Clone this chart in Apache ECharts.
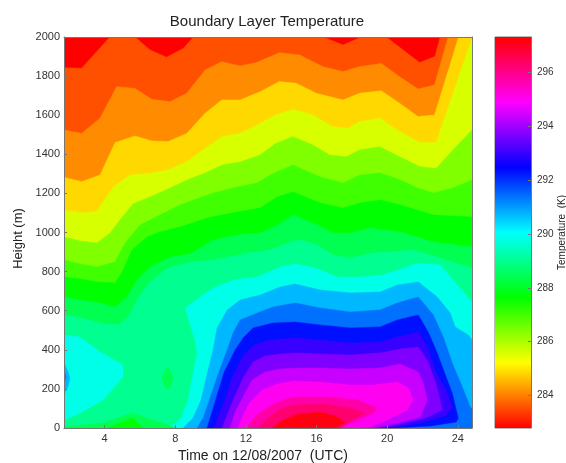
<!DOCTYPE html>
<html><head><meta charset="utf-8">
<style>html,body{margin:0;padding:0;background:#fff}#c{width:566px;height:463px;filter:blur(0.5px)}</style>
<script src="https://cdn.jsdelivr.net/npm/echarts@6/dist/echarts.min.js"></script>
</head><body><div id="c"></div>
<script>
const titleText = 'Boundary Layer Temperature';
const xName = 'Time on 12/08/2007  (UTC)';
const yName = 'Height (m)';
const barName = 'Temperature  (K)';
const xMin = 1.7, xMax = 24.8, yMin = 0, yMax = 2000, tMin = 282.8, tMax = 297.3;
const xTicks = [4, 8, 12, 16, 20, 24];
const tTicks = [284, 286, 288, 290, 292, 294, 296];
const bandColors = ['#ff0000','#ff5000','#ff8c00','#ffd800','#d8ff00','#80ff00','#40ff00','#00ff00','#00ff50','#00ff90','#00ffe8','#00b8ff','#0070ff','#0010ff','#3800ff','#8000ff','#c800ff','#ff00f0','#ff00a8','#ff0070','#ff0010'];
const barStops = ['#ff0000','#ffff00','#00ff00','#00ffff','#0000ff','#ff00ff','#ff0000'];

// contour lines [time UTC, height m], coldest to warmest
const level01 = [[1.7,1843],[2.7,1840],[4.3,2000],[5.72,2000],[6.57,1934],[7.5,1896],[8.46,1942],[9.03,2000],[16.36,2000],[17.5,1959],[18.54,2000],[19.94,2000],[21.83,1869],[22.7,1900],[23.0,2000],[24.8,2000]];
const level02 = [[1.7,1524],[2.7,1507],[3.74,1584],[4.68,1746],[5.72,1737],[6.67,1681],[7.7,1669],[8.65,1712],[9.69,1831],[10.63,1874],[11.67,1852],[12.6,1869],[13.9,1920],[15.04,1908],[16.36,1848],[17.5,1823],[18.43,1848],[19.66,1865],[20.7,1797],[21.74,1734],[22.68,1754],[23.43,1993],[23.5,2000],[24.8,2000]];
const level03 = [[1.7,1282],[2.7,1260],[3.74,1294],[4.6,1460],[5.72,1494],[6.67,1468],[7.6,1465],[8.65,1507],[9.69,1610],[10.63,1678],[11.67,1678],[12.8,1720],[13.9,1772],[14.85,1763],[15.98,1712],[17.5,1678],[18.43,1712],[19.66,1725],[20.7,1661],[21.74,1593],[22.68,1601],[24.04,2000],[24.8,2000]];
const level04 = [[1.7,1115],[2.7,1101],[3.55,1107],[4.5,1234],[5.45,1294],[6.6,1303],[7.6,1320],[8.65,1362],[9.69,1430],[10.63,1490],[11.67,1507],[12.8,1558],[13.7,1601],[14.66,1630],[15.79,1601],[16.9,1541],[17.8,1533],[18.43,1567],[19.57,1584],[20.7,1516],[21.83,1460],[22.77,1460],[24.8,1993]];
const level05 = [[1.7,977],[2.6,956],[3.57,946],[4.31,997],[4.87,1064],[5.61,1146],[6.57,1182],[7.71,1228],[8.67,1269],[9.69,1304],[10.65,1345],[11.67,1361],[12.8,1396],[13.7,1456],[14.66,1490],[15.79,1448],[16.74,1396],[17.68,1388],[18.43,1422],[19.57,1439],[20.7,1388],[21.83,1337],[22.77,1328],[23.72,1422],[24.8,1524]];
const level06 = [[1.7,859],[2.6,839],[3.57,824],[4.59,849],[5.16,946],[6.01,1038],[7.14,1089],[8.27,1141],[10.14,1202],[11.28,1228],[12.63,1253],[13.37,1294],[14.67,1345],[16.2,1284],[17.51,1253],[18.47,1294],[19.6,1304],[20.74,1269],[21.7,1228],[22.61,1202],[23.74,1228],[24.8,1269]];
const level07 = [[1.7,772],[2.6,762],[3.57,747],[4.59,742],[4.99,798],[5.55,910],[6.4,977],[7.14,1003],[8.27,1028],[9.8,1074],[11.5,1105],[12.8,1125],[13.77,1182],[14.67,1207],[16.2,1151],[17.51,1125],[18.47,1151],[19.6,1166],[20.74,1141],[22.61,1089],[24.8,1079]];
const level08 = [[1.7,670],[2.6,655],[3.74,639],[4.59,619],[5.27,670],[5.84,757],[6.57,824],[7.71,875],[8.84,890],[10.14,962],[11.5,987],[12.8,997],[13.77,1038],[14.67,1089],[16.03,1038],[16.94,997],[17.9,997],[19.04,1023],[20.74,1003],[22.61,951],[24.8,926]];
const level09 = [[1.7,578],[2.72,563],[3.74,537],[4.76,527],[5.33,568],[5.89,665],[6.57,747],[7.54,818],[8.84,849],[10.14,859],[12.07,895],[13.37,910],[14.5,951],[15.07,962],[16.03,936],[16.94,885],[17.9,870],[19.2,895],[21.47,910],[23.0,870],[24.8,818]];
const level10 = [[7.59,0],[8.27,41],[8.73,143],[9.01,281],[9.24,384],[9.12,450],[8.73,563],[8.56,614],[9.41,670],[10.14,716],[11.28,757],[12.63,772],[13.94,824],[14.79,839],[15.92,818],[17.17,772],[18.47,772],[19.77,783],[21.13,824],[21.76,844],[23.0,834],[23.97,731],[24.8,644]];
const level11 = [[8.44,0],[9.01,51],[9.46,143],[9.86,297],[10.14,399],[10.37,512],[10.94,604],[11.67,655],[12.81,680],[13.94,721],[14.79,737],[16.2,706],[17.9,691],[19.6,696],[20.57,731],[21.76,747],[22.83,670],[23.57,588],[23.85,517],[24.59,476],[24.8,450]];
const level12 = [[9.24,0],[9.58,51],[9.97,153],[10.37,261],[10.94,399],[11.28,486],[11.67,552],[12.64,588],[13.54,619],[14.79,639],[16.2,614],[17.9,593],[19.6,604],[20.57,639],[21.76,670],[22.61,578],[23.17,465],[23.68,332],[24.25,210],[24.7,107],[24.8,100]];
const level13 = [[9.8,0],[10.03,66],[10.37,169],[10.77,286],[11.39,399],[11.84,460],[12.41,512],[13.54,537],[14.79,542],[16.2,527],[17.9,512],[19.6,517],[20.57,552],[21.76,578],[22.32,491],[22.83,384],[23.29,271],[23.68,179],[23.91,92],[24.02,51],[23.91,31],[22.44,10],[20.34,0]];
const level14 = [[10.2,0],[10.48,66],[10.82,143],[11.22,261],[11.84,368],[12.41,419],[13.09,445],[13.94,455],[14.79,460],[16.2,450],[17.9,435],[19.6,440],[20.57,465],[21.76,491],[22.27,414],[22.78,281],[23.4,179],[23.68,102],[23.29,61],[21.87,26],[20.17,0]];
const level15 = [[10.65,0],[10.94,66],[11.33,153],[11.84,256],[12.41,338],[13.09,368],[13.94,379],[14.79,384],[16.2,379],[17.9,373],[19.6,384],[20.74,404],[21.76,414],[22.32,338],[22.78,220],[23,143],[23.12,92],[22.15,51],[20.74,20],[19.72,0]];
const level16 = [[11.11,0],[11.39,82],[11.84,159],[12.35,246],[13.09,286],[13.94,302],[14.79,307],[16.2,307],[17.9,302],[19.6,307],[20.74,327],[21.76,286],[22.04,230],[22.27,143],[21.87,56],[20.57,26],[19.21,0]];
const level17 = [[11.56,0],[11.84,66],[12.24,133],[12.92,194],[13.77,225],[14.68,240],[16.2,235],[17.9,220],[19.21,220],[20.57,235],[21.19,205],[21.47,143],[21.13,92],[20,41],[19.04,5],[18.47,0]];
const level18 = [[12.07,0],[12.35,41],[12.81,82],[13.77,133],[14.68,159],[16.6,159],[18.3,143],[19.43,102],[19.21,77],[18.07,31],[17.17,0]];
const level19 = [[12.69,0],[13.26,51],[13.94,97],[14.68,118],[16.6,123],[17.9,102],[18.75,77],[18.02,41],[17.34,0]];
const level20 = [[13.49,0],[14.11,41],[14.96,72],[16.2,82],[17.05,61],[17.62,31],[17.05,0]];
const contours = [level01,level02,level03,level04,level05,level06,level07,level08,level09,level10,level11,level12,level13,level14,level15,level16,level17,level18,level19,level20];

// closed patches that do not follow the layering [time UTC, height m]
const warmLobe = [[1.7,476],[2.61,465],[3.74,389],[5.04,322],[5.04,261],[3.91,143],[2.61,77],[1.7,41]];
const edgeSpotOuter = [[1.7,333],[1.93,286],[2.04,256],[1.93,215],[1.7,169]];
const edgeSpotInner = [[1.7,297],[1.81,261],[1.7,220]];
const coolSpot = [[7.59,312],[7.75,285],[7.88,256],[7.75,220],[7.59,194],[7.4,220],[7.25,256],[7.4,290]];
const groundCool = [[1.7,5],[3.91,26],[5.55,77],[6.74,41],[8.1,0],[1.7,0]];
const groundCooler = [[4.14,0],[4.87,26],[5.55,51],[6.18,0]];

const closed = pts => {
  const out = pts.slice();
  if (pts[pts.length-1][1] > yMin) out.push([xMax, yMin]);
  if (pts[0][1] > yMin) out.push([xMin, yMin]);
  return out;
};
const shapes = [];
shapes.push({pts:[[xMin,yMin],[xMax,yMin],[xMax,yMax],[xMin,yMax]], color:bandColors[0]});
contours.forEach((c,i)=>shapes.push({pts:closed(c), color:bandColors[i+1]}));
shapes.push({pts:warmLobe,color:bandColors[10]});
shapes.push({pts:edgeSpotOuter,color:bandColors[11]});
shapes.push({pts:edgeSpotInner,color:bandColors[12]});
shapes.push({pts:coolSpot,color:bandColors[8]});
shapes.push({pts:groundCool,color:bandColors[8]});
shapes.push({pts:groundCooler,color:bandColors[7]});

const txt = '#333';
const font = 'Liberation Sans';
const chart = echarts.init(document.getElementById('c'), null, {renderer:'canvas'});
chart.setOption({
  animation:false,
  backgroundColor:'#fff',
  textStyle:{fontFamily:font},
  title:{text:titleText,left:262,top:9,textAlign:'center',textStyle:{fontSize:15,fontWeight:'normal',color:'#222',fontFamily:font,lineHeight:16}},
  grid:[
    {left:64,top:37,width:408,height:391,outerBoundsMode:'none'},
    {left:495,top:37,width:36,height:391,outerBoundsMode:'none',show:true,borderColor:'#777',borderWidth:1,backgroundColor:'transparent'}
  ],
  xAxis:[
    {type:'value',gridIndex:0,min:xMin,max:xMax,z:5,name:xName,nameLocation:'middle',nameGap:12,
     nameTextStyle:{fontSize:14,color:'#222',fontFamily:font,padding:[0,10,0,0]},
     splitLine:{show:false},axisLine:{show:true,onZero:false,lineStyle:{color:'#777'}},
     axisTick:{show:true,inside:true,length:3,customValues:xTicks,lineStyle:{color:'#777'}},
     axisLabel:{fontSize:11,color:txt,margin:5,customValues:xTicks,fontFamily:font}},
    {type:'value',gridIndex:0,position:'top',min:xMin,max:xMax,z:5,splitLine:{show:false},axisLine:{show:true,onZero:false,lineStyle:{color:'#777'}},axisTick:{show:false},axisLabel:{show:false}},
    {type:'value',gridIndex:1,min:0,max:1,show:false}
  ],
  yAxis:[
    {type:'value',gridIndex:0,min:yMin,max:yMax,interval:200,z:5,name:yName,nameLocation:'middle',nameGap:35,nameRotate:90,
     nameTextStyle:{fontSize:13,color:'#222',fontFamily:font,padding:[0,12,0,0]},
     splitLine:{show:false},axisLine:{show:true,onZero:false,lineStyle:{color:'#777'}},
     axisTick:{show:true,inside:true,length:3,lineStyle:{color:'#777'}},
     axisLabel:{fontSize:11,color:txt,margin:4,fontFamily:font,formatter:v=>String(v)}},
    {type:'value',gridIndex:0,position:'right',min:yMin,max:yMax,z:5,splitLine:{show:false},axisLine:{show:true,onZero:false,lineStyle:{color:'#777'}},axisTick:{show:false},axisLabel:{show:false}},
    {type:'value',gridIndex:1,position:'right',min:tMin,max:tMax,z:5,name:barName,nameLocation:'middle',nameGap:25,nameRotate:90,
     nameTextStyle:{fontSize:10,color:'#222',fontFamily:font},
     splitLine:{show:false},axisLine:{show:true,onZero:false,lineStyle:{color:'#777'}},
     axisTick:{show:true,inside:true,length:3,customValues:tTicks,lineStyle:{color:'#777'}},
     axisLabel:{fontSize:10,color:txt,margin:6,customValues:tTicks,fontFamily:font}}
  ],
  series:[
    {type:'custom',xAxisIndex:0,yAxisIndex:0,clip:true,silent:true,
     data:shapes.map((s,i)=>[i]),
     renderItem:(params,api)=>{
       const s = shapes[params.dataIndex];
       return {type:'polygon',shape:{points:s.pts.map(p=>api.coord(p))},style:{fill:s.color,stroke:s.color,lineWidth:0.5}};
     }},
    {type:'custom',xAxisIndex:2,yAxisIndex:2,clip:true,silent:true,
     data:[[0,tMin,1,tMax]],
     renderItem:(params,api)=>{
       const a = api.coord([api.value(0),api.value(1)]);
       const b = api.coord([api.value(2),api.value(3)]);
       return {type:'rect',shape:{x:a[0],y:b[1],width:b[0]-a[0],height:a[1]-b[1]},
         style:{fill:{type:'linear',x:0,y:1,x2:0,y2:0,colorStops:barStops.map((c,i)=>({offset:i/(barStops.length-1),color:c}))}}};
     }}
  ]
});
</script></body></html>
